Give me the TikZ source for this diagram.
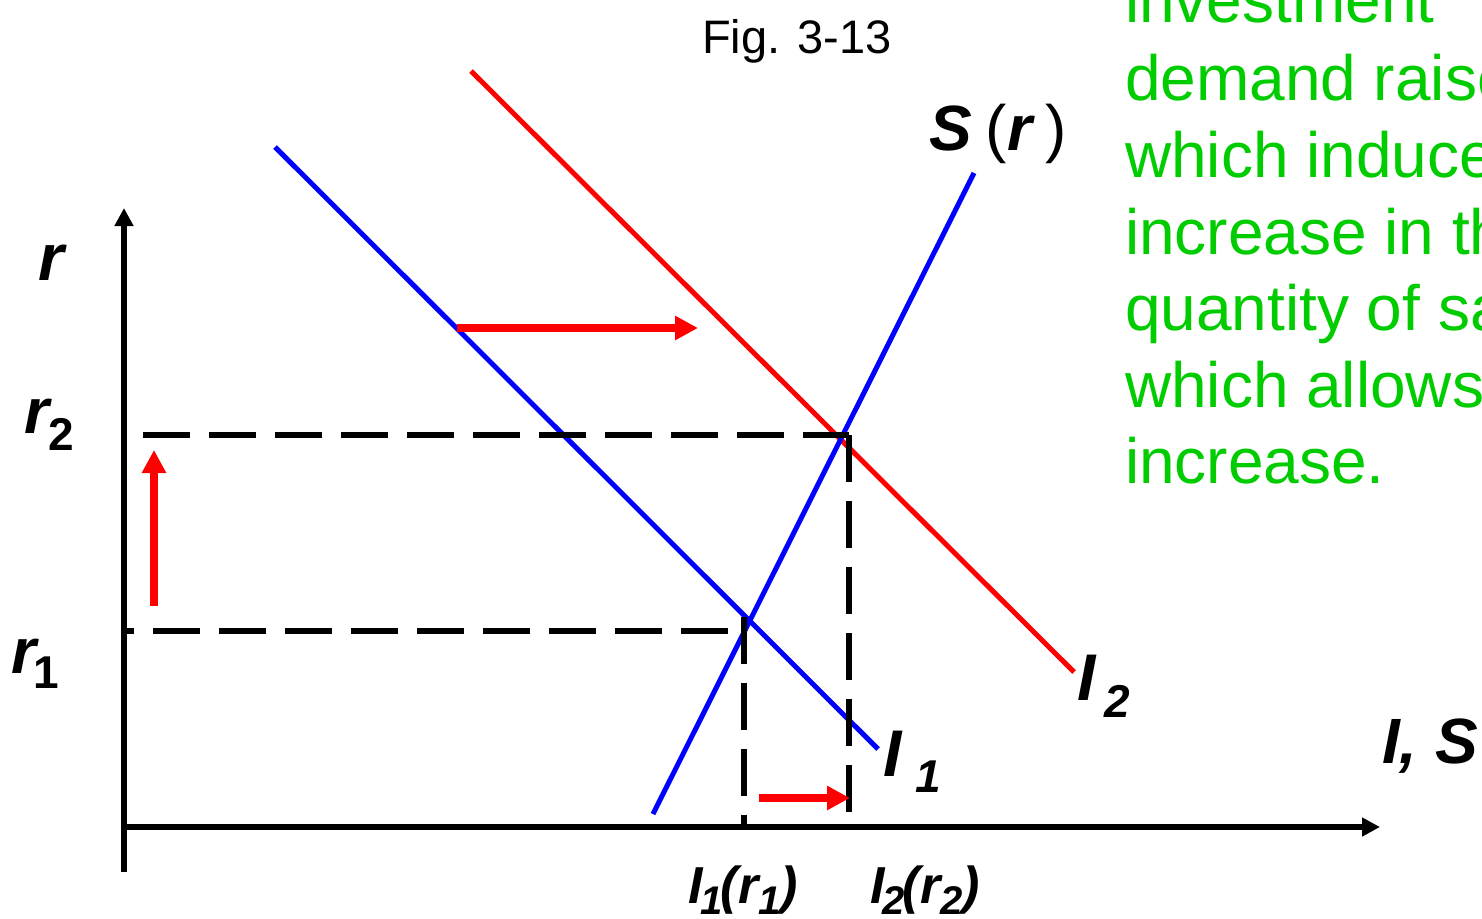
\documentclass[tikz,border=0pt]{standalone}
\usepackage{fontspec}
\setmainfont{Liberation Sans}
\usetikzlibrary{arrows.meta}
\definecolor{txtgreen}{RGB}{0,204,0}
\definecolor{pureblue}{RGB}{0,0,255}
\definecolor{purered}{RGB}{255,0,0}
\newcommand{\bi}[1]{{\bfseries\itshape #1}}
\newcommand{\fsz}[1]{\fontsize{#1}{#1}\selectfont}
\begin{document}
\begin{tikzpicture}[x=1pt,y=-1pt,
  axisline/.style={line width=5.5pt,-{Triangle[length=18pt,width=18pt]}},
  bluecurve/.style={line width=5pt,draw=pureblue},
  redcurve/.style={line width=5pt,draw=purered},
  guide/.style={line width=5.5pt,dash pattern=on 47pt off 19pt},
  shiftarrow/.style={line width=7.5pt,draw=purered,-{Triangle[length=23pt,width=23pt]}},
  lab/.style={anchor=base west,inner sep=0pt,outer sep=0pt},
  note/.style={lab,text=txtgreen,font=\fsz{64}}
]
\useasboundingbox (0,0) rectangle (1482,918);
\clip (0,0) rectangle (1482,918);

% coordinates
\coordinate (yb) at (124,872);
\coordinate (yt) at (124,208);
\coordinate (xl) at (121,827);
\coordinate (xr) at (1380,827);
\coordinate (i1a) at (275,147);
\coordinate (i1b) at (878,749);
\coordinate (i2a) at (471,71);
\coordinate (i2b) at (1074,672);
\coordinate (sa) at (653,814);
\coordinate (sb) at (974,173);
\coordinate (r2l) at (143,435);
\coordinate (r2r) at (849,435);
\coordinate (r2d) at (849,812);
\coordinate (r1l) at (124,631);
\coordinate (r1r) at (745,631);
\coordinate (v1t) at (744,617);
\coordinate (v1b) at (744,827);
\coordinate (h1s) at (457,328);
\coordinate (h1e) at (698,328);
\coordinate (v2s) at (154,606);
\coordinate (v2e) at (154,450);
\coordinate (h2s) at (759,798);
\coordinate (h2e) at (850,798);

% axes
\draw[axisline] (yb) -- (yt);
\draw[axisline] (xl) -- (xr);

% curves
\draw[bluecurve] (i1a) -- (i1b);
\draw[redcurve] (i2a) -- (i2b);
\draw[bluecurve] (sa) -- (sb);

% dashed guides
\draw[guide] (r2l) -- (r2r);
\draw[guide] (r2r) -- (r2d);
\draw[guide,dash phase=37pt] (r1l) -- (r1r);
\draw[guide] (v1t) -- (v1b);

% red shift arrows
\draw[shiftarrow] (h1s) -- (h1e);
\draw[shiftarrow] (v2s) -- (v2e);
\draw[shiftarrow] (h2s) -- (h2e);

% labels
\node[lab,font=\fsz{47}] (fig) at (702,53) {Fig. 3-13};
\node[lab,font=\fsz{66}] (rlab) at (38,280) {\bi{r}};
\node[lab,font=\fsz{64}] (r2lab) at (24,433) {\bi{r}\raisebox{-17pt}{\fsz{46}\bfseries 2}};
\node[lab,font=\fsz{64}] (r1lab) at (12,673) {\bi{r}\hspace{-3pt}\raisebox{-15pt}{\fsz{46}\bfseries 1}};
\node[lab,font=\fsz{64}] (slab) at (929,150) {\bi{S}\hspace{14pt}(\bi{r}\hspace{14pt})};
\node[lab,font=\fsz{66}] (i1lab) at (883,776) {\bi{I}\hspace{14pt}\raisebox{-16pt}{\fsz{46}\bi{1}}};
\node[lab,font=\fsz{66}] (i2lab) at (1077,700) {\bi{I}\hspace{9pt}\raisebox{-17pt}{\fsz{46}\bi{2}}};
\node[lab,font=\fsz{64}] (islab) at (1382,763) {\bi{I, S}};
\node[lab,font=\fsz{52}] (i1r1) at (688,903) {\bi{I}\hspace{-2pt}\raisebox{-11pt}{\fsz{40}\bi{1}}\hspace{-2pt}\bi{(r}\raisebox{-11pt}{\fsz{40}\bi{1}}\bi{)}};
\node[lab,font=\fsz{52}] (i2r2) at (870,903) {\bi{I}\hspace{-2pt}\raisebox{-11pt}{\fsz{40}\bi{2}}\hspace{-2pt}\bi{(r}\raisebox{-11pt}{\fsz{40}\bi{2}}\bi{)}};

% green note
\node[note] (n0) at (1125,23) {investment};
\node[note] (n1) at (1125,100) {demand raises};
\node[note] (n2) at (1125,177) {which induces};
\node[note] (n3) at (1125,254) {increase in the};
\node[note] (n4) at (1125,330) {quantity of saving};
\node[note] (n5) at (1125,407) {which allows};
\node[note] (n6) at (1125,483) {increase.};
\end{tikzpicture}
\end{document}
